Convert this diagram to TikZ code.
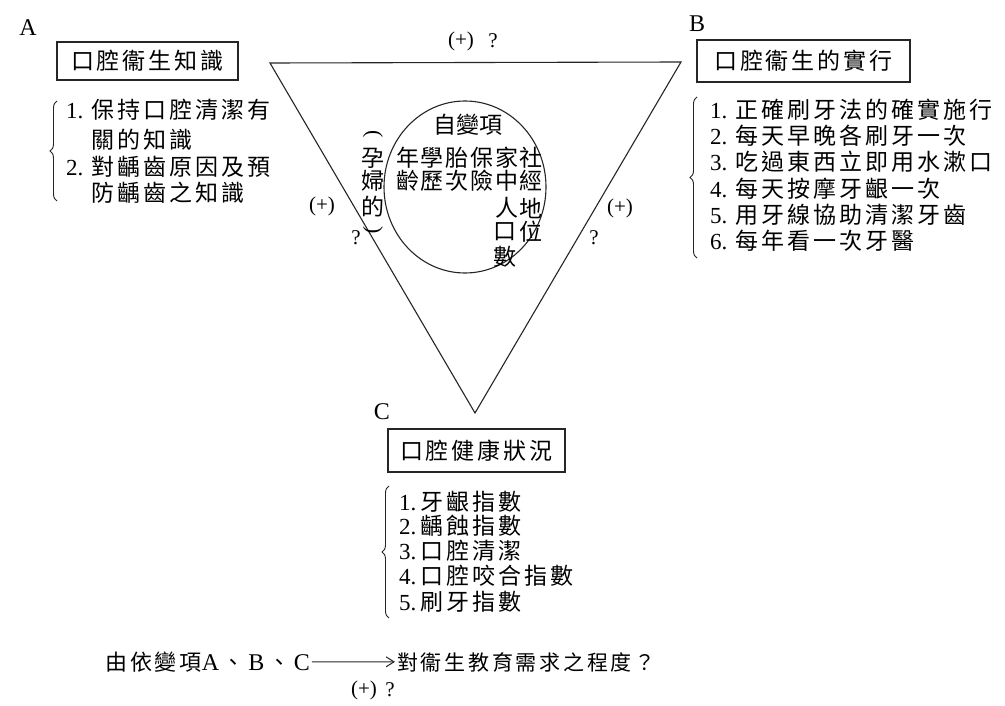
\documentclass[tikz,border=0pt]{standalone}
\usepackage{fontspec}
\setmainfont{Liberation Serif}
\newfontfamily\zh{Noto Sans CJK TC}
\newfontfamily\zhsp[LetterSpace=13]{Noto Sans CJK TC}
\usetikzlibrary{decorations.pathreplacing,arrows.meta,shapes.geometric}
\begin{document}
\begin{tikzpicture}[x=1pt,y=-1pt,
  ln/.style={line width=1.1pt,draw=black!85,line join=miter},
  boxnode/.style={draw=black!85,line width=1.1pt,inner sep=0pt,font=\zhsp\fontsize{23}{26}\selectfont},
  itemtxt/.style={anchor=base west,inner sep=0pt,font=\zhsp\fontsize{23}{26}\selectfont},
  itemnum/.style={anchor=base west,inner sep=0pt,font=\rmfamily\fontsize{23}{26}\selectfont},
  lab/.style={inner sep=0pt,font=\rmfamily\fontsize{24}{26}\selectfont},
  sgn/.style={inner sep=0pt,font=\rmfamily\fontsize{21}{24}\selectfont},
  cch/.style={inner sep=0pt,font=\zh\fontsize{23}{24}\selectfont},
  par/.style={inner sep=0pt,font=\rmfamily\fontsize{22}{24}\selectfont,rotate=-90},
  brc/.style={decorate,decoration={brace,amplitude=7pt},line width=0.9pt,draw=black!85},
  bottomtxt/.style={anchor=base west,inner sep=2pt},
]
\useasboundingbox[fill=white] (0,0) rectangle (1005,706);

% triangle
\coordinate (ta) at (270,63);
\coordinate (tb) at (681,62);
\coordinate (tc) at (475,413);
\draw[ln] (ta) -- (tb) -- (tc) -- cycle;

% circle of independent variables
\node[draw=black!85,line width=1.1pt,ellipse,minimum width=162pt,minimum height=172pt,inner sep=0pt] (circ) at (465,187) {};
\node[cch] (iv) at (468,125) {自變項};
\foreach \t/\x/\y [count=\i] in {年/408/158, 齡/408/181, 學/432/158, 歷/432/181, 胎/457/158, 次/457/181, 保/482/158, 險/482/181, 家/507/158, 中/507/181, 人/507/208, 口/505/232, 數/505/257, 社/531/158, 經/531/181, 地/531/208, 位/531/232}
  \node[cch] (v\i) at (\x,\y) {\t};
\node[par] (p1) at (373,134) {(};
\foreach \t/\y [count=\i] in {孕/158, 婦/181, 的/207}
  \node[cch] (pw\i) at (373,\y) {\t};
\node[par] (p2) at (373,230) {)};

% signs
\node[sgn] (s1) at (461,41) {(+)};
\node[sgn] (q1) at (493,41) {?};
\node[sgn] (s2) at (322,206) {(+)};
\node[sgn] (q2) at (356,238) {?};
\node[sgn] (s3) at (620,208) {(+)};
\node[sgn] (q3) at (594,238) {?};

% labels
\node[lab] (la) at (28,28) {A};
\node[lab] (lb) at (697,24) {B};
\node[lab] (lc) at (382,412) {C};

% boxes
\node[boxnode,minimum width=181pt,minimum height=38pt] (ka) at (147.5,61) {口腔衞生知識};
\node[boxnode,minimum width=213pt,minimum height=42pt] (kb) at (803.5,61) {口腔衞生的實行};
\node[boxnode,minimum width=177pt,minimum height=43pt] (kc) at (476.5,450.5) {口腔健康狀況};

% list A
\coordinate (ab1) at (57,201);
\coordinate (ab2) at (57,101);
\draw[brc] (ab1) -- (ab2);
\node[itemnum] (an1) at (66,119) {1.};
\node[itemtxt] (at1) at (91,119) {保持口腔清潔有};
\node[itemtxt] (at2) at (91,149) {關的知識};
\node[itemnum] (an2) at (66,176) {2.};
\node[itemtxt] (at3) at (91,176) {對齲齒原因及預};
\node[itemtxt] (at4) at (91,202) {防齲齒之知識};

% list B
\coordinate (bb1) at (697,258);
\coordinate (bb2) at (697,97);
\draw[brc] (bb1) -- (bb2);
\foreach \n/\t/\y [count=\i] in {1./正確刷牙法的確實施行/119, 2./每天早晚各刷牙一次/145, 3./吃過東西立即用水漱口/171, 4./每天按摩牙齦一次/197, 5./用牙線協助清潔牙齒/223, 6./每年看一次牙醫/249}
{
  \node[itemnum] (bn\i) at (710,\y) {\n};
  \node[itemtxt] (bt\i) at (735,\y) {\t};
}

% list C
\coordinate (cb1) at (389,618);
\coordinate (cb2) at (389,486);
\draw[brc] (cb1) -- (cb2);
\foreach \n/\t/\y [count=\i] in {1./牙齦指數/510, 2./齲蝕指數/534, 3./口腔清潔/559, 4./口腔咬合指數/584, 5./刷牙指數/610}
{
  \node[itemnum] (cn\i) at (399,\y) {\n};
  \node[itemtxt] (ct\i) at (420,\y) {\t};
}

% bottom relation
\node[bottomtxt] (dep) at (103,670) {\zhsp\fontsize{22}{26}\selectfont 由依變項{\rmfamily\fontsize{24}{26}\selectfont A}\,、\,{\rmfamily\fontsize{24}{26}\selectfont B}\,、\,{\rmfamily\fontsize{24}{26}\selectfont C}};
\node[bottomtxt] (need) at (395,670) {\zhsp\fontsize{21}{26}\selectfont 對衞生教育需求之程度？};
\draw[line width=1pt,draw=black!85,-{Straight Barb[length=8pt,width=10pt]}] (dep) -- (need);
\node[sgn] (s4) at (364,690) {(+)};
\node[sgn] (q4) at (390,690) {?};
\end{tikzpicture}
\end{document}
